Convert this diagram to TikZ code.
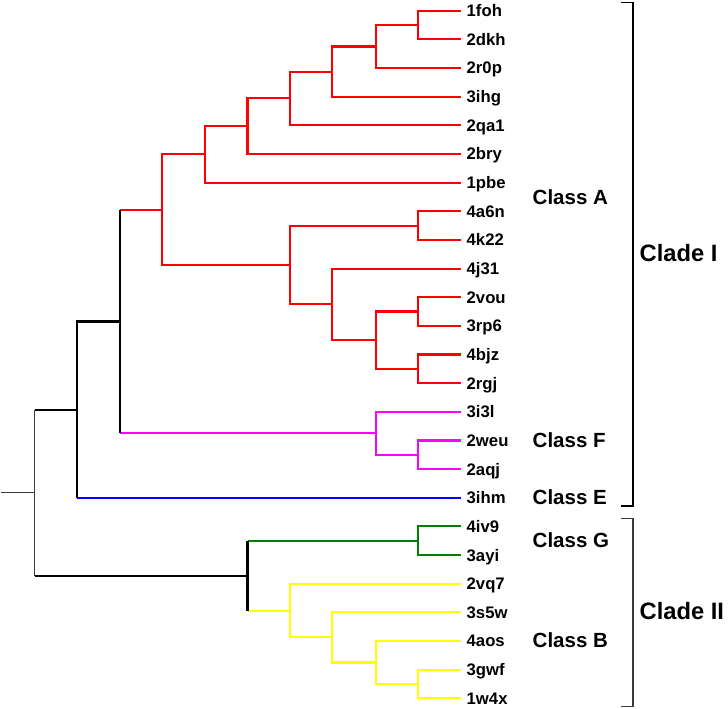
\documentclass[tikz,border=0pt]{standalone}
\usepackage{fontspec}
\setmainfont{Liberation Sans}
\definecolor{clsA}{RGB}{255,0,0}
\definecolor{clsF}{RGB}{255,0,255}
\definecolor{clsE}{RGB}{0,0,255}
\definecolor{clsG}{RGB}{0,128,0}
\definecolor{clsB}{RGB}{255,255,0}
\definecolor{bracketgray}{RGB}{60,60,60}

\begin{document}
\begin{tikzpicture}[x=1pt,y=-1pt,
  leaf/.style={anchor=west, inner xsep=5.5pt, inner ysep=0pt, font={\fontsize{16.7}{18}\selectfont\bfseries}, text height=11.9pt, text depth=0pt},
  classlabel/.style={anchor=base west, inner sep=0pt, font={\fontsize{20.5}{24}\selectfont\bfseries}},
  cladelabel/.style={anchor=base west, inner sep=0pt, font={\fontsize{23.7}{28}\selectfont\bfseries}},
  branch/.style={line width=2.1pt},
  thinbranch/.style={line width=1.1pt, draw=bracketgray}]
\useasboundingbox (0,0) rectangle (728,709);
\node[leaf] (l0) at (461,10.7) {1foh};
\node[leaf] (l1) at (461,39.35) {2dkh};
\node[leaf] (l2) at (461,68) {2r0p};
\node[leaf] (l3) at (461,96.65) {3ihg};
\node[leaf] (l4) at (461,125.3) {2qa1};
\node[leaf] (l5) at (461,153.95) {2bry};
\node[leaf] (l6) at (461,182.6) {1pbe};
\node[leaf] (l7) at (461,211.25) {4a6n};
\node[leaf] (l8) at (461,239.9) {4k22};
\node[leaf] (l9) at (461,268.55) {4j31};
\node[leaf] (l10) at (461,297.2) {2vou};
\node[leaf] (l11) at (461,325.85) {3rp6};
\node[leaf] (l12) at (461,354.5) {4bjz};
\node[leaf] (l13) at (461,383.15) {2rgj};
\node[leaf] (l14) at (461,411.8) {3i3l};
\node[leaf] (l15) at (461,440.45) {2weu};
\node[leaf] (l16) at (461,469.1) {2aqj};
\node[leaf] (l17) at (461,497.75) {3ihm};
\node[leaf] (l18) at (461,526.4) {4iv9};
\node[leaf] (l19) at (461,555.05) {3ayi};
\node[leaf] (l20) at (461,583.7) {2vq7};
\node[leaf] (l21) at (461,612.35) {3s5w};
\node[leaf] (l22) at (461,641) {4aos};
\node[leaf] (l23) at (461,669.65) {3gwf};
\node[leaf] (l24) at (461,698.3) {1w4x};
\coordinate (a1) at (418.3,25.03);
\coordinate (a2) at (375.7,46.51);
\coordinate (a3) at (332.3,71.58);
\coordinate (a4) at (290,98.44);
\coordinate (a5) at (247.5,126.2);
\coordinate (a6) at (205,154.4);
\coordinate (b1) at (418.3,225.58);
\coordinate (b2) at (418.3,311.53);
\coordinate (b3) at (418.3,368.83);
\coordinate (b4) at (375.7,340.18);
\coordinate (b5) at (332.3,304.36);
\coordinate (b6) at (290,264.97);
\coordinate (cA) at (162.3,209.69);
\coordinate (f1) at (418.3,454.78);
\coordinate (cF) at (375.7,433.29);
\coordinate (n2) at (120,321.49);
\coordinate (n1) at (77.3,409.62);
\coordinate (g1) at (418.3,540.73);
\coordinate (y1) at (418.3,683.98);
\coordinate (y2) at (375.7,662.49);
\coordinate (y3) at (332.3,637.42);
\coordinate (y4) at (290,610.56);
\coordinate (n5) at (247.5,575.65);
\coordinate (root) at (34.7,492.63);
\coordinate (stub) at (1,492.63);
\draw[branch, clsA] (l0.west) -| (a1) |- (l1.west);
\draw[branch, clsA] (a1) -| (a2) |- (l2.west);
\draw[branch, clsA] (a2) -| (a3) |- (l3.west);
\draw[branch, clsA] (a3) -| (a4) |- (l4.west);
\draw[branch, clsA] (a4) -| (a5) |- (l5.west);
\draw[branch, clsA] (a5) -| (a6) |- (l6.west);
\draw[branch, clsA] (l7.west) -| (b1) |- (l8.west);
\draw[branch, clsA] (l10.west) -| (b2) |- (l11.west);
\draw[branch, clsA] (l12.west) -| (b3) |- (l13.west);
\draw[branch, clsA] (b2) -| (b4) |- (b3);
\draw[branch, clsA] (l9.west) -| (b5) |- (b4);
\draw[branch, clsA] (b1) -| (b6) |- (b5);
\draw[branch, clsA] (a6) -| (cA) |- (b6);
\draw[branch, clsF] (l15.west) -| (f1) |- (l16.west);
\draw[branch, clsF] (l14.west) -| (cF) |- (f1);
\draw[branch, clsA] (n2 |- cA) -- (cA);
\draw[branch, clsF] (n2 |- cF) -- (cF);
\draw[branch, black] (n2 |- cA) -- (n2 |- cF);
\draw[branch, clsE] (n1 |- l17.west) -- (l17.west);
\draw[branch, black] (n2) -| (n1) -- (n1 |- l17.west);
\draw[branch, clsG] (l18.west) -| (g1) |- (l19.west);
\draw[branch, clsB] (l23.west) -| (y1) |- (l24.west);
\draw[branch, clsB] (l22.west) -| (y2) |- (y1);
\draw[branch, clsB] (l21.west) -| (y3) |- (y2);
\draw[branch, clsB] (l20.west) -| (y4) |- (y3);
\draw[branch, clsG] (n5 |- g1) -- (g1);
\draw[branch, clsB] (n5 |- y4) -- (y4);
\draw[branch, black] (n5 |- g1) -- (n5 |- y4);
\draw[branch, black] (root |- n1) -- (n1);
\draw[branch, black] (root |- n5) -- (n5);
\draw[thinbranch] (root |- n1) -- (root |- n5);
\draw[thinbranch] (stub) -- (root);
\node[classlabel] (lblA) at (532.5,204) {Class A};
\node[classlabel] (lblF) at (532.5,447.3) {Class F};
\node[classlabel] (lblE) at (532.5,504) {Class E};
\node[classlabel] (lblG) at (532.5,547.3) {Class G};
\node[classlabel] (lblB) at (532.5,647.7) {Class B};
\draw[line width=1.4pt, black] (620.7,2.7) -- (633,2.7) -- (633,506) -- (620.7,506);
\draw[line width=1.4pt, bracketgray] (620.7,518.3) -- (633,518.3) -- (633,706.3) -- (620.7,706.3);
\node[cladelabel] (cladeI) at (639.5,261) {Clade I};
\node[cladelabel] (cladeII) at (639.5,619.3) {Clade II};
\end{tikzpicture}
\end{document}
